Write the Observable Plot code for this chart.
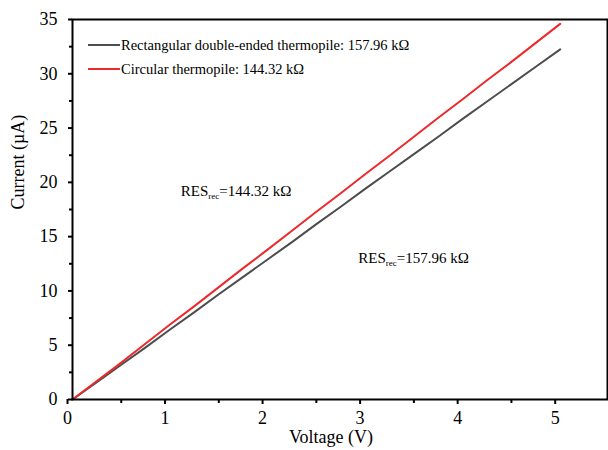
<!DOCTYPE html>
<html>
<head>
<meta charset="utf-8">
<script src="https://cdn.jsdelivr.net/npm/d3@7"></script>
<script src="https://cdn.jsdelivr.net/npm/@observablehq/plot@0.6"></script>
<style>
  body { margin: 0; background: #fff; font-family: "Liberation Serif", "Times New Roman", serif; }
  #wrap { position: relative; width: 608px; height: 450px; }
  #wrap svg text { font-family: "Liberation Serif", "Times New Roman", serif; }
  #legend { position: absolute; left: 88px; top: 33px; font-size: 14.5px; color: #000; }
  .row { display: flex; align-items: center; height: 24px; white-space: nowrap; }
  .sw { width: 32px; height: 0; border-top: 2.5px solid; margin-right: 1px; }
</style>
</head>
<body>
<div id="wrap"></div>
<script>
// Data
const voltage = [0, 0.25, 0.5, 0.75, 1, 1.25, 1.5, 1.75, 2, 2.25, 2.5, 2.75, 3, 3.25, 3.5, 3.75, 4, 4.25, 4.5, 4.75, 5];
const currentCircular = [0, 1.7, 3.4, 5.15, 6.9, 8.6, 10.35, 12.1, 13.8, 15.55, 17.3, 19.0, 20.75, 22.45, 24.2, 25.95, 27.65, 29.4, 31.1, 32.85, 34.6];
const currentRect = [0, 1.6, 3.2, 4.8, 6.45, 8.05, 9.7, 11.3, 12.9, 14.5, 16.15, 17.75, 19.4, 21.0, 22.6, 24.2, 25.85, 27.45, 29.05, 30.65, 32.25];
const seriesNames = ["Rectangular double-ended thermopile: 157.96 kΩ", "Circular thermopile: 144.32 kΩ"];
const seriesColors = ["#4d4d4d", "#ec2a2c"];
const xTicks = [0, 1, 2, 3, 4, 5];
const xMinor = [0.5, 1.5, 2.5, 3.5, 4.5];
const yTicks = [0, 5, 10, 15, 20, 25, 30, 35];
const yMinor = [2.5, 7.5, 12.5, 17.5, 22.5, 27.5, 32.5];
const annotations = [
  {x: 1.11, y: 19.15, base: "RES", sub: "rec", rest: "=144.32 kΩ"},
  {x: 2.93, y: 13.0, base: "RES", sub: "rec", rest: "=157.96 kΩ"}
];

const rows = [];
voltage.forEach((v, i) => rows.push({series: seriesNames[0], v, c: currentRect[i]}));
voltage.forEach((v, i) => rows.push({series: seriesNames[1], v, c: currentCircular[i]}));

const serif = "'Liberation Serif', 'Times New Roman', serif";
const chart = Plot.plot({
  width: 608, height: 450,
  marginLeft: 72, marginRight: 1, marginTop: 19, marginBottom: 51,
  style: {fontFamily: serif, fontSize: "18px", color: "#000", background: "#fff", overflow: "visible"},
  x: {domain: [0, 5.485]},
  y: {domain: [0, 35]},
  color: {domain: seriesNames, range: seriesColors},
  marks: [
    Plot.line(rows, {x: "v", y: "c", stroke: "series", strokeWidth: 2}),
    Plot.frame({stroke: "#000", strokeWidth: 2}),
    Plot.axisX({ticks: xTicks, tickSize: 5, tickPadding: 7, tickFormat: d => String(d), label: null, dx: -5, strokeWidth: 2, fontSize: 18, fontFamily: serif}),
    Plot.axisX({ticks: xMinor, tickSize: 4, text: null, label: null, strokeWidth: 2}),
    Plot.axisY({ticks: yTicks, tickSize: 4, tickPadding: 11, tickFormat: d => String(d), label: null, strokeWidth: 2, fontSize: 18, fontFamily: serif}),
    Plot.axisY({ticks: yMinor, tickSize: 3, text: null, label: null, strokeWidth: 2}),
    Plot.text(["Voltage (V)"], {frameAnchor: "bottom", dx: -9, dy: 43, fontSize: 18, fontFamily: serif, fill: "#000"}),
    Plot.text(["Current (µA)"], {frameAnchor: "left", rotate: -90, dx: -54, fontSize: 18, fontFamily: serif, fill: "#000"}),
    Plot.text(annotations, {x: "x", y: "y", text: d => d.base + "|" + d.sub + "|" + d.rest, textAnchor: "start", fontSize: 15, fontFamily: serif, fill: "#000"})
  ]
});

// subscript formatting for annotation labels
chart.querySelectorAll("text").forEach(t => {
  const s = t.textContent;
  if (s.split("|").length === 3 && s.startsWith("RES")) {
    const [b, sub, rest] = s.split("|");
    t.textContent = "";
    const ns = "http://www.w3.org/2000/svg";
    const t1 = document.createElementNS(ns, "tspan"); t1.textContent = b;
    const t2 = document.createElementNS(ns, "tspan"); t2.textContent = sub; t2.setAttribute("font-size", "9"); t2.setAttribute("dy", "3");
    const t3 = document.createElementNS(ns, "tspan"); t3.textContent = rest; t3.setAttribute("dy", "-3");
    t.append(t1, t2, t3);
  }
});

const wrap = document.getElementById("wrap");
wrap.appendChild(chart);
const legend = document.createElement("div");
legend.id = "legend";
seriesNames.forEach((name, i) => {
  const row = document.createElement("div"); row.className = "row";
  const sw = document.createElement("div"); sw.className = "sw"; sw.style.borderTopColor = seriesColors[i];
  const label = document.createElement("span"); label.textContent = name;
  row.append(sw, label);
  legend.appendChild(row);
});
wrap.appendChild(legend);
</script>
</body>
</html>
